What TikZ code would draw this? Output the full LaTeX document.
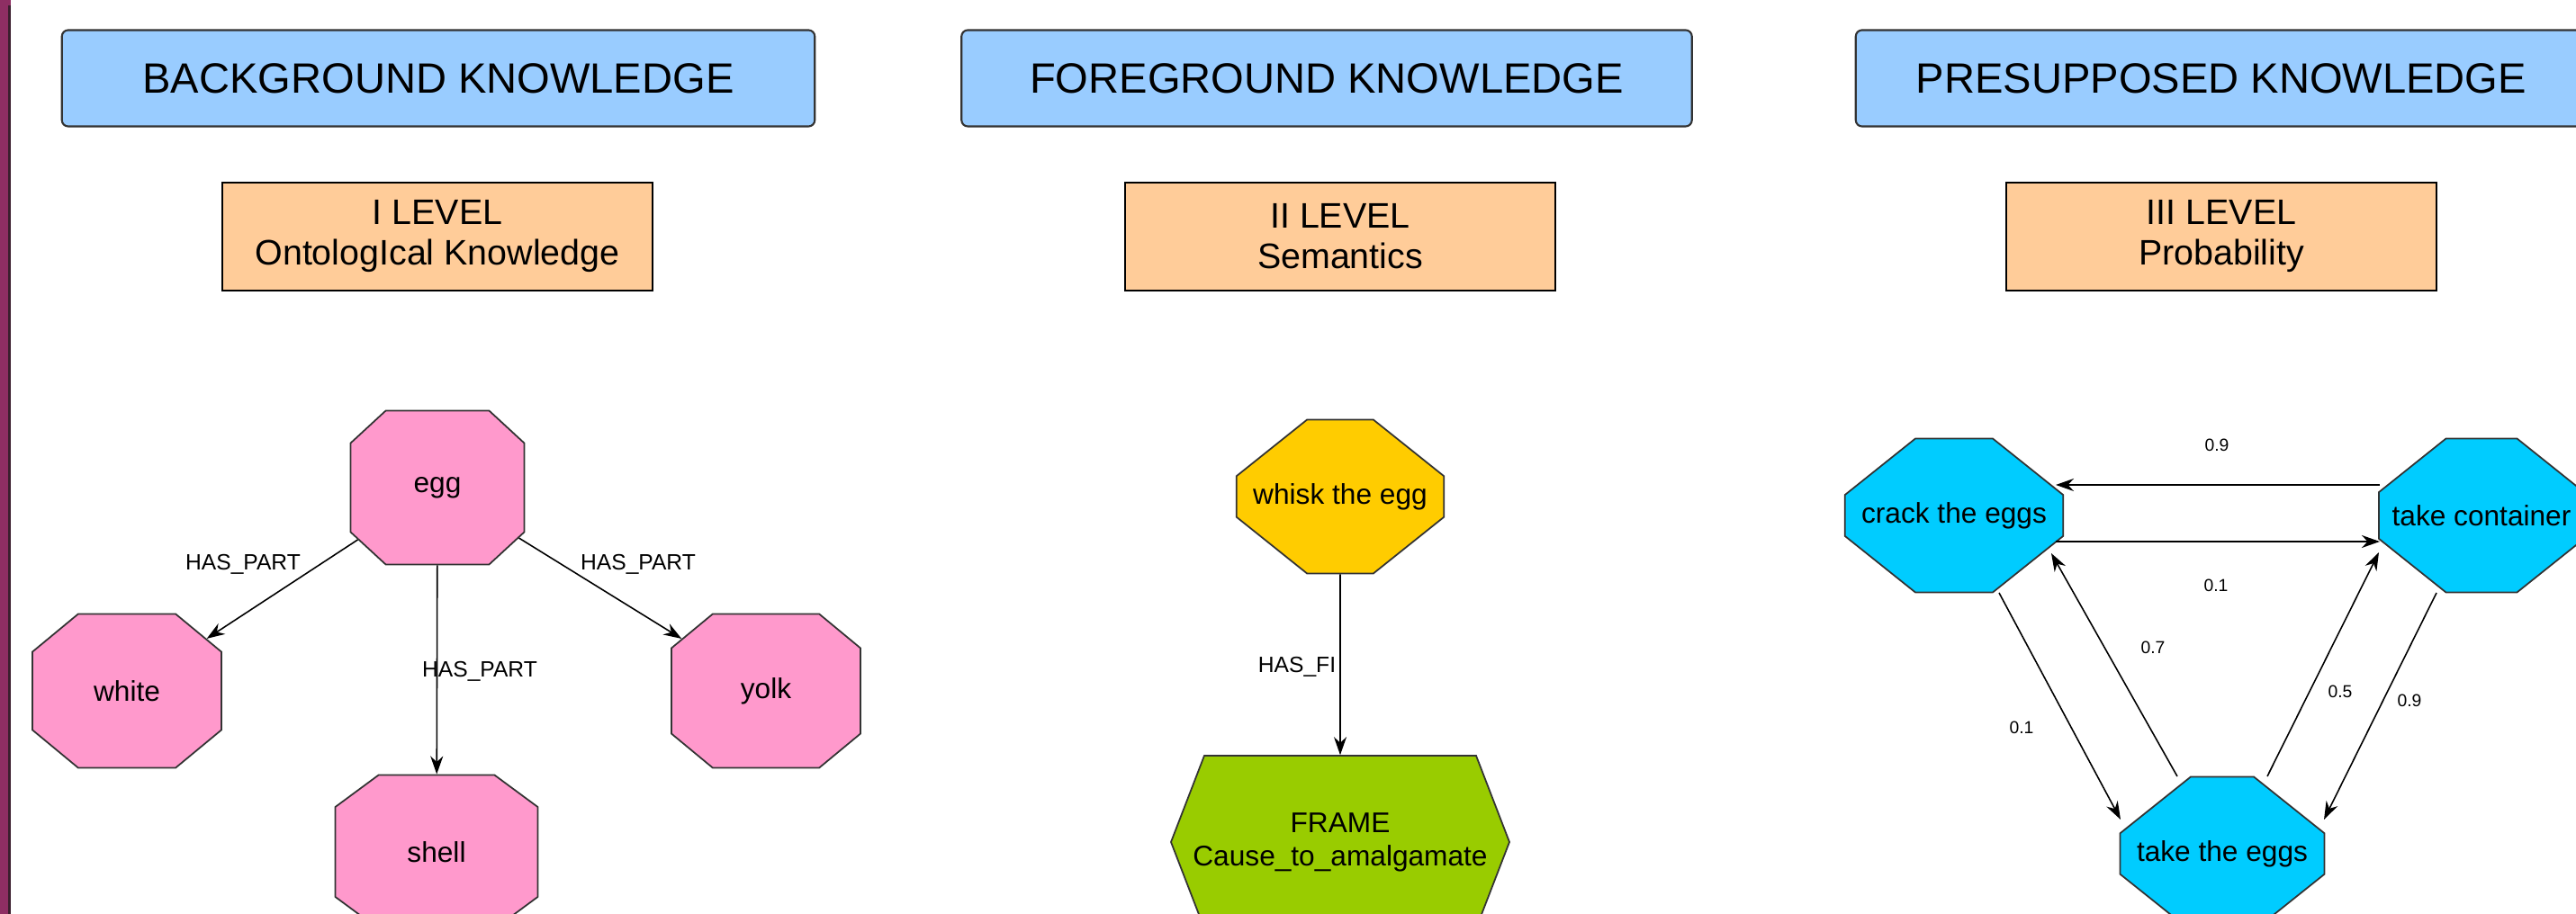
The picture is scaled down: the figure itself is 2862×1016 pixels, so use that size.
\documentclass[tikz,border=0pt]{standalone}
\usepackage{fontspec}
\setmainfont{Liberation Sans}
\usetikzlibrary{arrows.meta,shapes.misc}
\definecolor{headblue}{HTML}{99CCFF}
\definecolor{levelorange}{HTML}{FFCC99}
\definecolor{partpink}{HTML}{FF99CC}
\definecolor{actyellow}{HTML}{FFCC00}
\definecolor{framegreen}{HTML}{99CC00}
\definecolor{stepcyan}{HTML}{00CCFF}
\definecolor{stripplum}{HTML}{8E2E63}
\definecolor{stripdark}{HTML}{3A1F2E}
\definecolor{edgegray}{HTML}{333333}
\begin{document}
\begin{tikzpicture}
[x=0.01cm,y=-0.01cm,
  headdecorate/.style={draw=edgegray,fill=headblue,rounded corners=2pt,line width=0.6pt,
    minimum height=1.07cm,font=\fontsize{13.4}{16}\selectfont},
  leveldecorate/.style={draw=black,fill=levelorange,line width=0.6pt,align=center,
    minimum width=4.77cm,minimum height=1.2cm,font=\fontsize{11.2}{12.8}\selectfont},
  nodedecorate/.style={chamfered rectangle,chamfered rectangle ysep=0.48cm,draw=edgegray,
    line width=0.5pt,inner sep=0pt,minimum height=1.71cm,font=\fontsize{9}{11}\selectfont},
  labeldecorate/.style={inner sep=0pt,font=\fontsize{7}{8}\selectfont},
  probdecorate/.style={inner sep=0pt,font=\fontsize{5.5}{7}\selectfont},
  linedecorate/.style={-{Stealth[length=0.2cm,width=0.14cm]},line width=0.45pt}]
\useasboundingbox (0,0) rectangle (2862,1016);
\fill[stripplum] (0,0) rectangle (12,1016);
\fill[stripdark] (9,6) rectangle (12,1016);
%% headers and levels
\foreach \nodename/\nodelabel/\x/\w in {head1/BACKGROUND KNOWLEDGE/487/8.36,
  head2/FOREGROUND KNOWLEDGE/1474/8.11, head3/PRESUPPOSED KNOWLEDGE/2468/8.12} {
  \node (\nodename) at (\x,87) [headdecorate,minimum width=\w cm] {\nodelabel};
}
\foreach \nodename/\nodelabel/\x in {level1/{I LEVEL\\OntologIcal Knowledge}/486,
  level2/{II LEVEL\\Semantics}/1489, level3/{III LEVEL\\Probability}/2468} {
  \node (\nodename) at (\x,263) [leveldecorate] {\nodelabel};
}
%% nodes or vertices
\foreach \nodename/\nodelabel/\x/\y/\w/\cx/\colour in {
  egg/egg/486/542/1.93/0.52/partpink, white/white/141/768/2.1/0.58/partpink,
  yolk/yolk/851/768/2.1/0.58/partpink, shell/shell/485/947/2.25/0.65/partpink,
  whisk/whisk the egg/1489/552/2.26/0.6/actyellow,
  crack/crack the eggs/2171/573/2.25/0.6/stepcyan,
  cont/take container/2757/573/2.25/0.6/stepcyan,
  eggs/take the eggs/2469/949/2.25/0.6/stepcyan} {
  \pgfmathsetmacro\chamfer{atan(\cx/0.48)}
  \node (\nodename) at (\x,\y) [nodedecorate,minimum width=\w cm,
    chamfered rectangle xsep=\cx cm,chamfered rectangle angle=\chamfer,fill=\colour] {\nodelabel};
}
%% the frame hexagon
\coordinate (framec) at (1489,936);
\filldraw[draw=edgegray,line width=0.5pt,fill=framegreen]
  ([shift={(-188,0)}]framec) -- ([shift={(-151,-96)}]framec) -- ([shift={(151,-96)}]framec)
  -- ([shift={(188,0)}]framec) -- ([shift={(151,96)}]framec) -- ([shift={(-151,96)}]framec) -- cycle;
\node (frame) at (framec) [minimum width=3.02cm,minimum height=1.92cm,inner sep=0pt,
  align=center,font=\fontsize{9}{10.5}\selectfont] {FRAME\\Cause\_to\_amalgamate};
%% edges or lines
\path
\foreach \startnode/\endnode in {egg/white, egg/shell, egg/yolk, whisk/frame} {
  (\startnode) edge[linedecorate] (\endnode)
};
\foreach \startnode/\sx/\sy/\endnode/\ex/\ey in {
  cont/-113/-34/crack/113/-34, crack/113/29/cont/-113/29,
  crack/50/86/eggs/-113/-38, eggs/-50/-86/crack/108/42,
  eggs/50/-86/cont/-114/41, cont/-50/86/eggs/113/-38} {
  \draw[linedecorate] ([shift={(\sx,\sy)}]\startnode.center) -- ([shift={(\ex,\ey)}]\endnode.center);
}
%% edge labels
\foreach \lname/\ltext/\x/\y in {part1/HAS\_PART/270/627, part2/HAS\_PART/709/627,
  part3/HAS\_PART/533/746, fi/HAS\_FI/1441/741} {
  \node (\lname) at (\x,\y) [labeldecorate] {\ltext};
}
\foreach \lname/\ltext/\x/\y in {p1/0.9/2463/495, p2/0.1/2462/651, p3/0.1/2246/809,
  p4/0.7/2392/720, p5/0.5/2600/769, p6/0.9/2677/779} {
  \node (\lname) at (\x,\y) [probdecorate] {\ltext};
}
\end{tikzpicture}
\end{document}
